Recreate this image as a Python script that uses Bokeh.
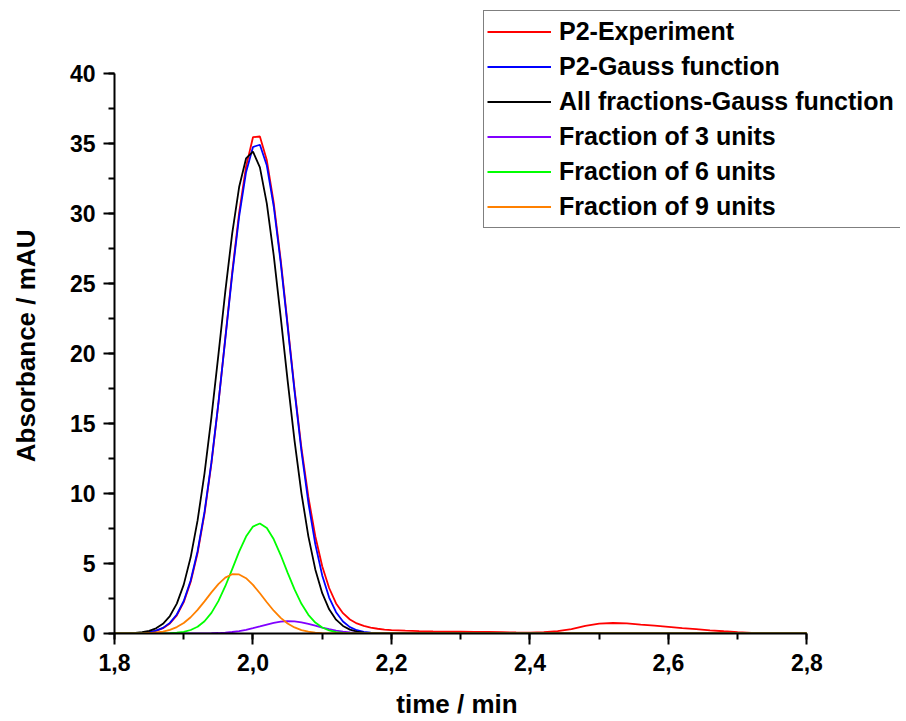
from bokeh.plotting import figure
from bokeh.models import (Range1d, Legend, LegendItem, SingleIntervalTicker,
                          CustomJSTickFormatter)
from bokeh.embed import file_html
from bokeh.resources import INLINE

# sample times (min)
time_fit = [1.80, 1.81, 1.82, 1.83, 1.84, 1.85, 1.86, 1.87, 1.88, 1.89,
            1.90, 1.91, 1.92, 1.93, 1.94, 1.95, 1.96, 1.97, 1.98, 1.99,
            2.00, 2.01, 2.02, 2.03, 2.04, 2.05, 2.06, 2.07, 2.08, 2.09,
            2.10, 2.11, 2.12, 2.13, 2.14, 2.15, 2.16, 2.17, 2.18, 2.19,
            2.20, 2.80]
time_exp = [1.80, 1.81, 1.82, 1.83, 1.84, 1.85, 1.86, 1.87, 1.88, 1.89,
            1.90, 1.91, 1.92, 1.93, 1.94, 1.95, 1.96, 1.97, 1.98, 1.99,
            2.00, 2.01, 2.02, 2.03, 2.04, 2.05, 2.06, 2.07, 2.08, 2.09,
            2.10, 2.11, 2.12, 2.13, 2.14, 2.15, 2.16, 2.17, 2.18, 2.19,
            2.20, 2.22, 2.24, 2.26, 2.28, 2.30, 2.32, 2.34, 2.36, 2.38,
            2.40, 2.42, 2.44, 2.46, 2.48, 2.50, 2.52, 2.54, 2.56, 2.58,
            2.60, 2.62, 2.64, 2.66, 2.68, 2.70, 2.72, 2.74, 2.76, 2.78,
            2.80]

# absorbance (mAU)
p2_experiment = [0.00, 0.00, 0.01, 0.02, 0.04, 0.09, 0.19, 0.38, 0.72, 1.30,
                 2.24, 3.68, 5.75, 8.56, 12.15, 16.40, 21.10, 25.80, 30.05, 33.35,
                 35.45, 35.50, 33.80, 30.75, 26.70, 22.10, 17.45, 13.25, 9.75, 6.95,
                 4.80, 3.25, 2.15, 1.45, 1.00, 0.72, 0.54, 0.42, 0.34, 0.28,
                 0.24, 0.20, 0.17, 0.15, 0.14, 0.13, 0.12, 0.11, 0.09, 0.07,
                 0.06, 0.09, 0.17, 0.32, 0.55, 0.70, 0.75, 0.73, 0.64, 0.56,
                 0.48, 0.39, 0.31, 0.23, 0.16, 0.10, 0.05, 0.02, 0.01, 0.00,
                 0.00]
p2_gauss = [0.001, 0.003, 0.008, 0.020, 0.045, 0.098, 0.204, 0.402, 0.758, 1.359,
            2.323, 3.785, 5.875, 8.686, 12.24, 16.43, 21.03, 25.63, 29.77, 32.95,
            34.75, 34.91, 33.43, 30.50, 26.51, 21.96, 17.33, 13.03, 9.34, 6.38,
            4.15, 2.57, 1.52, 0.855, 0.458, 0.234, 0.114, 0.053, 0.023, 0.010,
            0.004, 0.0]
all_fractions = [0.003, 0.008, 0.018, 0.041, 0.090, 0.186, 0.368, 0.694, 1.247, 2.137,
                 3.49, 5.44, 8.08, 11.44, 15.45, 19.89, 24.42, 28.58, 31.89, 33.93,
                 34.42, 33.29, 30.70, 26.99, 22.62, 18.08, 13.78, 10.01, 6.94, 4.58,
                 2.88, 1.73, 0.99, 0.54, 0.28, 0.14, 0.066, 0.030, 0.013, 0.005,
                 0.002, 0.0]
fraction_3 = [0, 0, 0, 0, 0, 0, 0, 0, 0, 0,
              0.001, 0.002, 0.004, 0.008, 0.017, 0.034, 0.062, 0.108, 0.174, 0.265,
              0.378, 0.507, 0.639, 0.757, 0.841, 0.879, 0.862, 0.795, 0.689, 0.560,
              0.428, 0.308, 0.207, 0.131, 0.078, 0.044, 0.023, 0.011, 0.005, 0.002,
              0.001, 0]
fraction_6 = [0, 0, 0, 0, 0.0003, 0.001, 0.003, 0.009, 0.023, 0.054,
              0.120, 0.250, 0.484, 0.875, 1.472, 2.310, 3.377, 4.603, 5.847, 6.922,
              7.639, 7.857, 7.532, 6.731, 5.605, 4.351, 3.148, 2.123, 1.335, 0.782,
              0.427, 0.217, 0.103, 0.046, 0.019, 0.007, 0.003, 0.001, 0, 0,
              0, 0]
fraction_9 = [0.0003, 0.001, 0.002, 0.006, 0.015, 0.034, 0.071, 0.140, 0.261, 0.458,
              0.752, 1.161, 1.684, 2.294, 2.937, 3.532, 3.989, 4.233, 4.220, 3.952,
              3.477, 2.873, 2.231, 1.627, 1.115, 0.718, 0.434, 0.246, 0.131, 0.066,
              0.031, 0.014, 0.006, 0.002, 0.001, 0, 0, 0, 0, 0,
              0, 0]

FONT = "Liberation Sans"
NBSP = "\u00a0"

# frame reaches the top and right edges so the legend is not clipped;
# the axes are limited to 1.8-2.8 and 0-40 with bounds
p = figure(width=900, height=721, output_backend="svg", toolbar_location=None,
           x_range=Range1d(1.8, 1.8 + 786 / 692.4), y_range=Range1d(0, 633 / 14.0),
           min_border_left=114, min_border_right=0,
           min_border_top=0, min_border_bottom=88)
p.outline_line_color = None
p.grid.visible = False
p.background_fill_color = "white"

series = [
    ("P2-Experiment", time_exp, p2_experiment, "#FF0000"),
    ("P2-Gauss function", time_fit, p2_gauss, "#0000FF"),
    ("All fractions-Gauss function", time_fit, all_fractions, "#000000"),
    ("Fraction of 3 units", time_fit, fraction_3, "#8000FF"),
    ("Fraction of 6 units", time_fit, fraction_6, "#00FF00"),
    ("Fraction of 9 units", time_fit, fraction_9, "#FF8000"),
]
items = []
for name, xs, ys, col in series:
    r = p.line(xs, ys, line_color=col, line_width=1.8)
    items.append(LegendItem(label=name, renderers=[r]))

p.xaxis.ticker = SingleIntervalTicker(interval=0.2, num_minor_ticks=2)
p.yaxis.ticker = SingleIntervalTicker(interval=5, num_minor_ticks=2)
p.xaxis.formatter = CustomJSTickFormatter(code="return tick.toFixed(1).replace('.', ',');")
p.xaxis.bounds = (1.7999, 2.8001)
p.yaxis.bounds = (0, 40)

for ax in (p.xaxis, p.yaxis):
    ax.axis_line_width = 2
    ax.major_tick_line_width = 2
    ax.minor_tick_line_width = 2
    ax.major_tick_in = 0
    ax.major_tick_out = 11
    ax.minor_tick_in = 0
    ax.minor_tick_out = 6
    ax.major_label_text_font = FONT
    ax.major_label_text_font_size = "23px"
    ax.major_label_text_font_style = "bold"
    ax.major_label_text_color = "black"
    ax.axis_label_text_font = FONT
    ax.axis_label_text_font_size = "26px"
    ax.axis_label_text_font_style = "bold"
    ax.axis_label_text_color = "black"

# the frame is wider/taller than the axes, so pad the labels to centre them on the axes
p.xaxis.axis_label = "time / min" + NBSP * 14
p.yaxis.axis_label = "Absorbance / mAU" + NBSP * 8
p.xaxis.major_label_standoff = 9
p.yaxis.major_label_standoff = 8
p.xaxis.axis_label_standoff = 15
p.yaxis.axis_label_standoff = 26

legend = Legend(items=items, location=(369, 405), orientation="vertical",
                border_line_color="black", border_line_width=1.5,
                background_fill_color="white", background_fill_alpha=1.0,
                padding=3, spacing=0, margin=0,
                label_height=35, glyph_height=35, glyph_width=64,
                label_standoff=8, label_width=345,
                label_text_font=FONT, label_text_font_size="25px",
                label_text_font_style="bold", label_text_color="black")
p.add_layout(legend, "center")

open("out.html", "w").write(file_html(p, INLINE))
